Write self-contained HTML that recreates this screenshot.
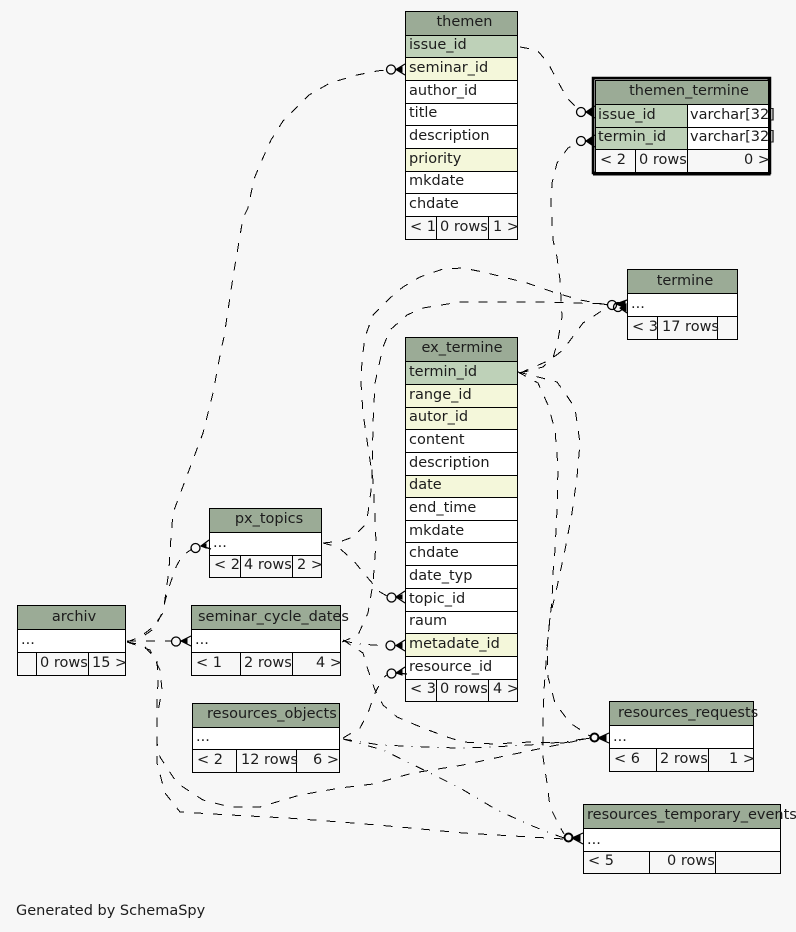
<!DOCTYPE html>
<html><head><meta charset="utf-8"><title>SchemaSpy</title>
<style>
html,body{margin:0;padding:0;background:#f7f7f7}
svg{display:block}
text{font-family:"DejaVu Sans","Liberation Sans",sans-serif;font-size:14.5px;fill:#1c1c1c}
.c{fill:none;stroke:#000;stroke-width:1;stroke-dasharray:9 10;shape-rendering:crispEdges}
.e{stroke-dasharray:9 8 1 8}
.h{fill:#9bab96;stroke:#000}
.p{fill:#bed1b8;stroke:#000}
.f{fill:#f4f7da;stroke:#000}
.w{fill:#fff;stroke:#000}
.g{fill:#f7f7f7;stroke:#000}
.m{text-anchor:middle}
.o{fill:none;stroke:#000;stroke-width:1.3}
.q{fill:none;stroke:#000;stroke-width:2}
.a{fill:#000;stroke:#000;stroke-width:1}
.l{fill:none;stroke:#000;stroke-width:1.2}
</style></head><body>
<svg width="796" height="932" viewBox="0 0 796 932" xmlns="http://www.w3.org/2000/svg">
<rect width="796" height="932" fill="#f7f7f7"/>

<!-- connectors -->
<path class="c" d="M127 642L140 637L153 627L163 613L169 570L170 550L173 513L188 473L203 433L213 393L221 350L224 337L233 277L243 218L248 208L254 179L262 160L271 140L283 121L309 95L330 83L357 75L377 71L386 70"/>
<path class="c" d="M127 642L145 635L155 628L162 613L168 590L176 567L182 556L192 549"/>
<path class="c" d="M520 47L537 50L548 63L557 80L567 98L577 108"/>
<path class="c" d="M520 373L543 367L553 358L558 340L562 317L560 280L557 257L553 240L551 203L552 183L557 163L568 148L577 143"/>
<path class="c" d="M520 373L550 360L563 350L583 323L600 312L608 309"/>
<path class="c" d="M342 642L358 635L368 613L373 583L376 543L375 517L373 480L368 447L363 413L361 383L362 360L365 337L373 315L390 298L403 287L420 277L443 269L463 268L483 272L503 277L527 283L553 292L580 300L603 304L608 305"/>
<path class="c" d="M323 543L342 541L353 537L365 525L368 513L372 483L373 423L375 383L383 347L390 330L407 315L423 308L460 302L507 302L540 302L573 303L608 304"/>
<path class="c" d="M323 543L338 547L353 560L367 577L380 592L387 596"/>
<path class="c" d="M127 641L172 641"/>
<path class="c e" d="M343 641L360 644L387 646"/>
<path class="c" d="M343 738L360 728L368 713L375 693L383 678L388 674"/>
<path class="c" d="M343 640L363 653L368 670L375 690L383 705L397 717L423 728L447 737L463 742L493 744L530 742L563 743L590 738"/>
<path class="c e" d="M343 739L380 745L427 747L457 748L490 747L530 745L563 742L590 738"/>
<path class="c e" d="M343 739L383 750L430 773L460 788L497 810L530 825L550 833L564 838"/>
<path class="c" d="M127 642L150 650L160 670L162 690L157 717L157 743L160 757L177 783L203 800L230 807L260 807L300 795L340 788L373 784L413 773L463 765L500 757L543 748L590 738"/>
<path class="c" d="M127 642L143 645L157 660L158 683L157 700L157 743L157 763L165 793L180 812L230 815L287 818L353 823L400 827L463 833L530 837L564 839"/>
<path class="c" d="M518 372L542 378L557 382L565 393L575 408L580 443L577 477L572 513L565 550L557 587L550 617L547 647L548 677L555 703L570 723L590 736"/>
<path class="c" d="M518 372L538 383L548 405L555 430L558 467L557 510L555 550L553 573L552 600L548 637L544 690L543 727L543 757L547 783L550 807L560 827L564 834"/>

<!-- themen -->
<rect class="h" x="405.5" y="11.5" width="112" height="24"/>
<rect class="p" x="405.5" y="35.5" width="112" height="22"/>
<rect class="f" x="405.5" y="57.5" width="112" height="23"/>
<rect class="w" x="405.5" y="80.5" width="112" height="23"/>
<rect class="w" x="405.5" y="103.5" width="112" height="22"/>
<rect class="w" x="405.5" y="125.5" width="112" height="23"/>
<rect class="f" x="405.5" y="148.5" width="112" height="23"/>
<rect class="w" x="405.5" y="171.5" width="112" height="22"/>
<rect class="w" x="405.5" y="193.5" width="112" height="23"/>
<rect class="g" x="405.5" y="216.5" width="31" height="23"/>
<rect class="g" x="436.5" y="216.5" width="52" height="23"/>
<rect class="g" x="488.5" y="216.5" width="29" height="23"/>
<text class="m" x="464.5" y="26">themen</text>
<text x="409" y="49">issue_id</text>
<text x="409" y="72">seminar_id</text>
<text x="409" y="95">author_id</text>
<text x="409" y="117">title</text>
<text x="409" y="140">description</text>
<text x="409" y="163">priority</text>
<text x="409" y="185">mkdate</text>
<text x="409" y="208">chdate</text>
<text x="410" y="231">&lt; 1</text>
<text x="440" y="231">0 rows</text>
<text x="493" y="231">1 &gt;</text>

<!-- themen_termine -->
<rect x="593.5" y="78.5" width="176" height="94" fill="#fff" stroke="#000" stroke-width="2"/>
<rect x="592.5" y="77.5" width="178" height="96" fill="none" stroke="#000" stroke-width="1.5"/>
<path d="M769 78V174H593" fill="none" stroke="#000" stroke-width="3"/>
<rect class="h" x="595.5" y="80.5" width="173" height="24"/>
<rect class="p" x="595.5" y="104.5" width="92" height="23"/>
<rect class="w" x="687.5" y="104.5" width="81" height="23"/>
<rect class="p" x="595.5" y="127.5" width="92" height="22"/>
<rect class="w" x="687.5" y="127.5" width="81" height="22"/>
<rect class="g" x="595.5" y="149.5" width="40" height="23"/>
<rect class="g" x="635.5" y="149.5" width="52" height="23"/>
<rect class="g" x="687.5" y="149.5" width="81" height="23"/>
<text class="m" x="689" y="95">themen_termine</text>
<text x="598" y="119">issue_id</text>
<text x="690" y="119">varchar[32]</text>
<text x="598" y="141">termin_id</text>
<text x="690" y="141">varchar[32]</text>
<text x="600" y="164">&lt; 2</text>
<text x="639" y="164">0 rows</text>
<text x="744" y="164">0 &gt;</text>

<!-- termine -->
<rect class="h" x="627.5" y="269.5" width="110" height="24"/>
<rect class="w" x="627.5" y="293.5" width="110" height="23"/>
<rect class="g" x="627.5" y="316.5" width="30" height="23"/>
<rect class="g" x="657.5" y="316.5" width="60" height="23"/>
<rect class="g" x="717.5" y="316.5" width="20" height="23"/>
<text class="m" x="685" y="285">termine</text>
<text x="631" y="308">...</text>
<text x="632" y="331">&lt; 3</text>
<text x="662" y="331">17 rows</text>

<!-- ex_termine -->
<rect class="h" x="405.5" y="337.5" width="112" height="24"/>
<rect class="p" x="405.5" y="361.5" width="112" height="23"/>
<rect class="f" x="405.5" y="384.5" width="112" height="23"/>
<rect class="f" x="405.5" y="407.5" width="112" height="22"/>
<rect class="w" x="405.5" y="429.5" width="112" height="23"/>
<rect class="w" x="405.5" y="452.5" width="112" height="23"/>
<rect class="f" x="405.5" y="475.5" width="112" height="22"/>
<rect class="w" x="405.5" y="497.5" width="112" height="23"/>
<rect class="w" x="405.5" y="520.5" width="112" height="22"/>
<rect class="w" x="405.5" y="542.5" width="112" height="23"/>
<rect class="w" x="405.5" y="565.5" width="112" height="23"/>
<rect class="w" x="405.5" y="588.5" width="112" height="23"/>
<rect class="w" x="405.5" y="611.5" width="112" height="22"/>
<rect class="f" x="405.5" y="633.5" width="112" height="23"/>
<rect class="w" x="405.5" y="656.5" width="112" height="23"/>
<rect class="g" x="405.5" y="679.5" width="31" height="22"/>
<rect class="g" x="436.5" y="679.5" width="52" height="22"/>
<rect class="g" x="488.5" y="679.5" width="29" height="22"/>
<text class="m" x="462" y="352">ex_termine</text>
<text x="409" y="376">termin_id</text>
<text x="409" y="399">range_id</text>
<text x="409" y="421">autor_id</text>
<text x="409" y="444">content</text>
<text x="409" y="467">description</text>
<text x="409" y="489">date</text>
<text x="409" y="512">end_time</text>
<text x="409" y="535">mkdate</text>
<text x="409" y="557">chdate</text>
<text x="409" y="580">date_typ</text>
<text x="409" y="603">topic_id</text>
<text x="409" y="625">raum</text>
<text x="409" y="648">metadate_id</text>
<text x="409" y="671">resource_id</text>
<text x="410" y="693">&lt; 3</text>
<text x="440" y="693">0 rows</text>
<text x="493" y="693">4 &gt;</text>

<!-- px_topics -->
<rect class="h" x="209.5" y="508.5" width="112" height="24"/>
<rect class="w" x="209.5" y="532.5" width="112" height="23"/>
<rect class="g" x="209.5" y="555.5" width="31" height="22"/>
<rect class="g" x="240.5" y="555.5" width="52" height="22"/>
<rect class="g" x="292.5" y="555.5" width="29" height="22"/>
<text class="m" x="269" y="523">px_topics</text>
<text x="213" y="547">...</text>
<text x="214" y="569">&lt; 2</text>
<text x="244" y="569">4 rows</text>
<text x="297" y="569">2 &gt;</text>

<!-- archiv -->
<rect class="h" x="17.5" y="605.5" width="108" height="24"/>
<rect class="w" x="17.5" y="629.5" width="108" height="23"/>
<rect class="g" x="17.5" y="652.5" width="19" height="23"/>
<rect class="g" x="36.5" y="652.5" width="52" height="23"/>
<rect class="g" x="88.5" y="652.5" width="37" height="23"/>
<text class="m" x="74" y="621">archiv</text>
<text x="21" y="644">...</text>
<text x="40" y="667">0 rows</text>
<text x="92" y="667">15 &gt;</text>

<!-- seminar_cycle_dates -->
<rect class="h" x="191.5" y="605.5" width="149" height="24"/>
<rect class="w" x="191.5" y="629.5" width="149" height="23"/>
<rect class="g" x="191.5" y="652.5" width="49" height="23"/>
<rect class="g" x="240.5" y="652.5" width="52" height="23"/>
<rect class="g" x="292.5" y="652.5" width="48" height="23"/>
<text x="198" y="621">seminar_cycle_dates</text>
<text x="195" y="644">...</text>
<text x="196" y="667">&lt; 1</text>
<text x="244" y="667">2 rows</text>
<text x="316" y="667">4 &gt;</text>

<!-- resources_objects -->
<rect class="h" x="192.5" y="703.5" width="147" height="24"/>
<rect class="w" x="192.5" y="727.5" width="147" height="22"/>
<rect class="g" x="192.5" y="749.5" width="44" height="23"/>
<rect class="g" x="236.5" y="749.5" width="60" height="23"/>
<rect class="g" x="296.5" y="749.5" width="43" height="23"/>
<text x="207" y="718">resources_objects</text>
<text x="196" y="741">...</text>
<text x="197" y="764">&lt; 2</text>
<text x="241" y="764">12 rows</text>
<text x="313" y="764">6 &gt;</text>

<!-- resources_requests -->
<rect class="h" x="609.5" y="701.5" width="144" height="24"/>
<rect class="w" x="609.5" y="725.5" width="144" height="23"/>
<rect class="g" x="609.5" y="748.5" width="47" height="23"/>
<rect class="g" x="656.5" y="748.5" width="52" height="23"/>
<rect class="g" x="708.5" y="748.5" width="45" height="23"/>
<text x="618" y="717">resources_requests</text>
<text x="613" y="741">...</text>
<text x="614" y="763">&lt; 6</text>
<text x="660" y="763">2 rows</text>
<text x="729" y="763">1 &gt;</text>

<!-- resources_temporary_events -->
<rect class="h" x="583.5" y="804.5" width="197" height="24"/>
<rect class="w" x="583.5" y="828.5" width="197" height="23"/>
<rect class="g" x="583.5" y="851.5" width="66" height="22"/>
<rect class="g" x="649.5" y="851.5" width="66" height="22"/>
<rect class="g" x="715.5" y="851.5" width="65" height="22"/>
<text x="587" y="819">resources_temporary_events</text>
<text x="587" y="844">...</text>
<text x="588" y="865">&lt; 5</text>
<text x="667" y="865">0 rows</text>

<text x="16" y="915">Generated by SchemaSpy</text>

<!-- crow's feet -->
<path class="a" d="M396 69.5L402 67V72Z"/><path class="l" d="M396 69.5L405 64M396 69.5L405 75"/><circle class="o" cx="391" cy="69.5" r="4.5"/>
<path class="a" d="M586 112L592 109V115Z"/><path class="l" d="M586 112L595 106M586 112L595 118"/><circle class="o" cx="581" cy="112" r="4.5"/>
<path class="a" d="M586 141L592 138V144Z"/><path class="l" d="M586 141L595 135M586 141L595 147"/><circle class="o" cx="581" cy="141" r="4.5"/>
<path class="a" d="M616 304L625 301V308Z"/><path class="a" d="M620 308L626 304V311Z"/><path class="l" d="M616 304L627 300M620 308L627 313"/>
<circle class="o" cx="612" cy="305" r="4.5"/><circle class="o" cx="618" cy="307" r="4.5"/>
<path class="a" d="M201 546L206 544V548Z"/><path class="l" d="M201 546L209 540M201 546L211 549"/><circle class="o" cx="195.5" cy="548" r="4.5"/>
<path class="a" d="M181 641L187 639V643Z"/><path class="l" d="M181 641L191 636M181 641L191 646"/><circle class="o" cx="176" cy="641.5" r="4.5"/>
<path class="a" d="M396 597L402 595V599Z"/><path class="l" d="M396 597L405 591M396 597L405 603"/><circle class="o" cx="391.5" cy="597.5" r="4.5"/>
<path class="a" d="M396 645.5L402 643V648Z"/><path class="l" d="M396 645.5L405 640M396 645.5L405 651"/><circle class="o" cx="390.5" cy="645.5" r="4.5"/>
<path class="a" d="M396 673L402 670V675Z"/><path class="l" d="M396 673L405 667M396 673L407 674"/><circle class="o" cx="391.5" cy="673.5" r="4.5"/>
<path class="a" d="M598 738L606 735V741Z"/><path class="l" d="M598 738L609 733M598 738L609 743"/><circle class="q" cx="594.5" cy="737.5" r="4"/>
<path class="a" d="M572 838L580 835V841Z"/><path class="l" d="M572 838L583 833M572 838L583 844"/><circle class="q" cx="568.5" cy="837.5" r="4"/>
</svg>
</body></html>
